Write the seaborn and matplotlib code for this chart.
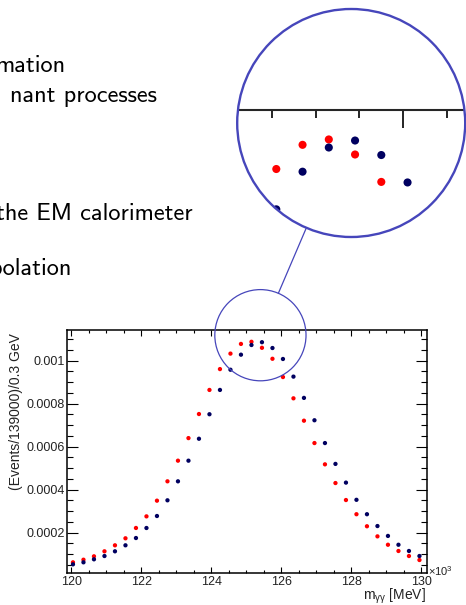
import numpy as np
import pandas as pd
import matplotlib
matplotlib.use("Agg")
import matplotlib.pyplot as plt
from matplotlib.patches import Circle
from matplotlib.lines import Line2D
from matplotlib.ticker import MultipleLocator, FixedLocator, FuncFormatter
import seaborn as sns

# ---------------- data ----------------
mass = [120.05, 120.35, 120.65, 120.95, 121.25, 121.55, 121.85, 122.15, 122.45, 122.75,
        123.05, 123.35, 123.65, 123.95, 124.25, 124.55, 124.85, 125.15, 125.45, 125.75,
        126.05, 126.35, 126.65, 126.95, 127.25, 127.55, 127.85, 128.15, 128.45, 128.75,
        129.05, 129.35, 129.65, 129.95]
red_vals = [0.0000623, 0.0000744, 0.0000902, 0.0001135, 0.0001414, 0.000174, 0.000222, 0.000276,
            0.000349, 0.000439, 0.000535, 0.000640, 0.000752, 0.000864, 0.000961, 0.001033,
            0.001078, 0.001088, 0.001060, 0.001009, 0.000924, 0.000825, 0.000721, 0.000617,
            0.000518, 0.000431, 0.000352, 0.000286, 0.000230, 0.000183, 0.000144, 0.000115,
            0.0000916, 0.0000730]
blue_vals = [0.0000530, 0.0000623, 0.0000763, 0.0000916, 0.0001135, 0.0001414, 0.0001753, 0.0002219,
             0.0002777, 0.0003507, 0.000439, 0.000535, 0.000637, 0.000751, 0.000864, 0.000958,
             0.001028, 0.001073, 0.001086, 0.001059, 0.001008, 0.000926, 0.000827, 0.000723,
             0.000617, 0.000520, 0.000433, 0.000353, 0.000286, 0.000231, 0.000185, 0.000144,
             0.000115, 0.0000916]
x_major_ticks = [120, 122, 124, 126, 128, 130]
y_major_ticks = [0.0002, 0.0004, 0.0006, 0.0008, 0.001]
slide_lines = ["mation", "nant processes", "the EM calorimeter", "polation"]

RED = "#ff0000"
NAVY = "#000060"
RING = "#4646bb"

df = pd.DataFrame({
    "mass": mass * 2,
    "val": red_vals + blue_vals,
    "series": ["red"] * len(mass) + ["blue"] * len(mass),
})
palette = {"red": RED, "blue": NAVY}

sns.set_style("ticks")
plt.rcParams["font.family"] = ["Liberation Sans", "DejaVu Sans"]
plt.rcParams["mathtext.fontset"] = "custom"
plt.rcParams["mathtext.rm"] = "Liberation Sans"
plt.rcParams["mathtext.it"] = "Liberation Sans:italic"

W, H = 466, 605
fig = plt.figure(figsize=(W / 100, H / 100), dpi=100)

# ---------------- main plot ----------------
L, R, T, B = 66.7, 426.7, 330.0, 573.0
ax = fig.add_axes([L / W, 1 - B / H, (R - L) / W, (B - T) / H])
sns.scatterplot(data=df, x="mass", y="val", hue="series", palette=palette,
                s=9.5, linewidth=0, legend=False, ax=ax, zorder=3)
XMIN, XMAX = 119.871, 130.157
YMIN, YMAX = 0.0000126, 0.0011428
ax.xaxis.set_major_locator(FixedLocator(x_major_ticks))
ax.xaxis.set_minor_locator(MultipleLocator(0.5))
ax.yaxis.set_major_locator(FixedLocator(y_major_ticks))
ax.yaxis.set_minor_locator(MultipleLocator(0.00005))
ax.set_xlim(XMIN, XMAX)
ax.set_ylim(YMIN, YMAX)
ax.xaxis.set_major_formatter(FuncFormatter(lambda v, p: "%d" % round(v)))
ax.yaxis.set_major_formatter(FuncFormatter(lambda v, p: "%g" % round(v, 6)))
for s in ax.spines.values():
    s.set_linewidth(1.1)
    s.set_color("black")
ax.tick_params(axis="both", which="both", direction="in", top=True, right=True,
               color="black", width=0.8)
ax.tick_params(axis="x", which="major", length=4.5, labelsize=9, pad=2.5, labelcolor="#222222")
ax.tick_params(axis="x", which="minor", length=2.4)
ax.tick_params(axis="y", which="major", length=7.7, labelsize=9, pad=1.5, labelcolor="#222222")
ax.tick_params(axis="y", which="minor", length=4.3)
ax.set_xlabel(r"m$\mathregular{_{γγ}}$ [MeV]", fontsize=10, color="#222222", loc="right")
ax.xaxis.set_label_coords(0.998, -0.058)
ax.set_ylabel("(Events/139000)/0.3 GeV", fontsize=10, color="#222222", loc="top")
ax.yaxis.set_label_coords(-0.121, 0.988)
ax.text(1.003, 0.008, r"×10$^{3}$", transform=ax.transAxes, fontsize=8, color="#222222",
        ha="left", va="center")
ax.grid(False)

# ---------------- magnifier ----------------
MAG = 2.5
c_data = (125.406, 0.0011186)           # center of the small circle (data)
r_small = 45.6                          # px
big_c = (351.2, 123.0)                  # px from top-left
r_big = 114.0

fig.canvas.draw()
cx_disp, cy_disp = ax.transData.transform(c_data)
px_per_x = ax.transData.transform((121, 0))[0] - ax.transData.transform((120, 0))[0]
px_per_y = (ax.transData.transform((120, 0.001))[1] - ax.transData.transform((120, 0))[1]) / 0.001

ax2 = fig.add_axes([(big_c[0] - r_big) / W, 1 - (big_c[1] + r_big) / H,
                    2 * r_big / W, 2 * r_big / H])
half_x = r_big / (px_per_x * MAG)
half_y = r_big / (px_per_y * MAG)
clip_circle = Circle((0.5, 0.5), 0.5, transform=ax2.transAxes)
sns.scatterplot(data=df, x="mass", y="val", hue="series", palette=palette,
                s=34, linewidth=0, legend=False, ax=ax2, zorder=3)
for coll in ax2.collections:
    coll.set_clip_path(clip_circle)
ax2.xaxis.set_major_locator(MultipleLocator(2))
ax2.xaxis.set_minor_locator(MultipleLocator(0.5))
ax2.yaxis.set_major_locator(FixedLocator([]))
ax2.set_xlim(c_data[0] - half_x, c_data[0] + half_x)
ax2.set_ylim(c_data[1] - half_y, c_data[1] + half_y)
ax2.patch.set_visible(False)
for k in ["left", "right", "bottom"]:
    ax2.spines[k].set_visible(False)
ax2.spines["top"].set_position(("data", YMAX))
ax2.spines["top"].set_linewidth(1.5)
ax2.spines["top"].set_clip_path(clip_circle)
ax2.xaxis.set_ticks_position("top")
ax2.tick_params(axis="x", which="both", direction="in", top=True, bottom=False,
                labeltop=False, labelbottom=False, color="black", width=1.2)
ax2.tick_params(axis="x", which="major", length=13)
ax2.tick_params(axis="x", which="minor", length=5.8)
ax2.set_xlabel("")
ax2.set_ylabel("")
ax2.add_patch(Circle((0.5, 0.5), 0.5, transform=ax2.transAxes, fill=False,
                     ec=RING, lw=1.7, zorder=10, clip_on=False))

# small circle on the main plot + connector (figure inches)
dpi = fig.dpi
sc = (cx_disp / dpi, cy_disp / dpi)
fig.add_artist(Circle(sc, r_small / dpi, transform=fig.dpi_scale_trans, fill=False,
                      ec=RING, lw=0.9, zorder=10))
bc = (big_c[0] / dpi, (H - big_c[1]) / dpi)
v = np.array(sc) - np.array(bc)
u = v / np.hypot(*v)
p1 = np.array(bc) + u * r_big / dpi
p2 = np.array(sc) - u * r_small / dpi
fig.add_artist(Line2D([p1[0], p2[0]], [p1[1], p2[1]], transform=fig.dpi_scale_trans,
                      color=RING, lw=0.9, zorder=10))

# ---------------- slide text (cut at left edge) ----------------
text_right = [65, 156.7, 192.7, 71.7]
text_base = [72.5, 102, 220, 275]
for t, xr, yb in zip(slide_lines, text_right, text_base):
    fig.text(xr / W, 1 - yb / H, t, family=["cmss10", "DejaVu Sans"], fontsize=17.5,
             ha="right", va="baseline", color="black")

fig.savefig("out.png", dpi=100)
